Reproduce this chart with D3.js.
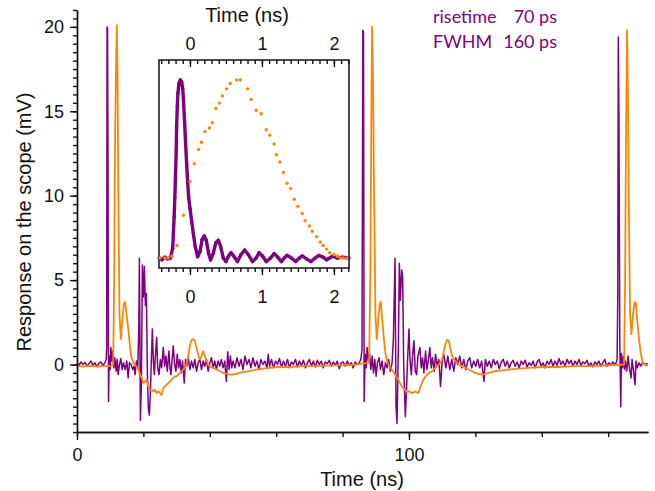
<!DOCTYPE html>
<html>
<head>
<meta charset="utf-8">
<script src="https://cdn.jsdelivr.net/npm/d3@7"></script>
<style>
  body { margin: 0; background: #fff; }
  svg { display: block; }
  .tick text { font-family: Arial, "Liberation Sans", sans-serif; font-size: 18px; fill: #111; }
  .title { font-family: Arial, "Liberation Sans", sans-serif; font-size: 20px; fill: #111; }
  .note { font-family: Lato, "Open Sans", sans-serif; font-size: 18px; fill: #800080; }
</style>
</head>
<body>
<svg id="chart" width="655" height="491"></svg>
<script>
// main traces: [time (ns), response (mV)]
const purpleTrace = [
  [0,0.1],[0.6,-0.05],[1.2,0.15],[1.8,0.0],[2.4,0.12],[3.0,-0.1],[3.6,0.05],[4.2,0.2],[4.8,-0.05],[5.4,0.1],
  [6.0,-0.12],[6.6,0.08],[7.2,0.15],[7.8,-0.05],[8.4,0.1],[8.8,0.3],
  // pulse 1
  [8.95,1.0],[9.05,20.0],[9.2,19.9],[9.35,11.4],[9.5,-2.2],[9.7,0.5],[10.0,-0.3],[10.2,1.0],[10.5,0.2],[10.8,0.8],
  [11.1,-0.2],[11.4,0.4],[11.8,-0.4],[12.1,0.3],[12.4,-0.6],[12.8,0.0],[13.2,0.35],[13.6,-0.3],[14.0,0.1],[14.5,-0.3],
  [15.0,0.2],[15.4,-0.8],[15.8,0.1],[16.3,0.0],[16.8,-0.3],[17.2,-0.1],[17.5,-0.6],[17.9,0.2],[18.3,-0.2],[18.6,2.0],
  [18.8,6.3],[19.1,-3.3],[19.4,-1.0],[19.7,5.9],[20.0,4.0],[20.3,5.8],[20.6,3.5],[20.9,4.2],[21.2,-0.5],[21.5,-2.6],
  [21.8,-3.0],[22.1,-1.7],[22.4,0.3],[22.7,2.1],[23.0,0.2],[23.3,-0.6],[23.6,0.5],[24.0,1.6],[24.3,-0.2],[24.7,-0.6],
  [25.1,0.3],[25.5,-0.2],[26.0,1.0],[26.4,-0.1],[26.8,0.5],[27.2,-0.4],[27.7,0.8],[28.0,-0.2],[28.3,-0.6],[28.7,0.4],
  [29.0,1.1],[29.4,0.0],[29.8,-0.4],[30.2,0.6],[30.6,-0.2],[31.0,0.3],[31.4,-0.5],[31.8,0.2],[32.3,-1.1],[32.7,0.3],
  [33.1,-0.1],[33.5,0.4],[34.0,-0.3],[34.5,0.2],[35.0,-0.2],[35.5,0.3],[36.0,-0.4],[36.5,0.1],[37.0,0.3],[37.5,-0.3],
  [38.0,0.2],[38.5,-0.1],[39.0,0.3],[39.5,-0.4],[40.0,0.1],[40.5,0.4],[41.0,-0.2],[41.5,0.2],[42.0,-0.3],[42.5,0.2],
  [43.0,-0.1],[43.5,0.3],[44.0,-0.2],[44.5,0.2],[45.0,-1.0],[45.4,0.75],[45.8,-0.3],[46.2,0.5],[46.6,-0.2],
  // quiet stretch
  [47.0,0.2],[47.6,-0.2],[48.2,0.4],[48.8,-0.1],[49.4,0.3],[50.0,-0.3],[50.6,0.5],[51.2,0.0],[51.8,0.3],[52.4,-0.2],
  [53.0,0.4],[53.6,-0.1],[54.2,0.2],[54.8,-0.3],[55.4,0.3],[56.0,0.0],[56.6,0.2],[57.2,-0.2],[57.6,0.6],[58.0,-0.1],
  [58.6,0.3],[59.2,-0.2],[59.8,0.2],[60.4,0.0],[61.0,0.35],[61.6,-0.15],[62.2,0.2],[62.8,-0.1],[63.4,0.3],[64.0,-0.2],
  [64.6,0.15],[65.2,0.0],[65.8,0.3],[66.4,-0.15],[67.0,0.2],[67.6,-0.05],[68.2,0.25],[68.8,-0.2],[69.4,0.1],[70.0,0.3],
  [70.6,-0.1],[71.2,0.2],[71.8,-0.15],[72.4,0.25],[73.0,0.0],[73.6,0.2],[74.2,-0.2],[74.8,0.15],[75.4,0.05],[76.0,0.25],
  [76.6,-0.1],[77.2,0.15],[77.8,-0.05],[78.4,0.2],[79.0,-0.25],[79.6,0.1],[80.2,0.15],[80.8,-0.1],[81.4,0.2],[82.0,-0.05],
  [82.6,0.1],[83.2,-0.2],[83.8,0.15],[84.4,0.0],[85.0,0.1],[85.5,0.3],
  // pulse 2
  [85.85,0.9],[86.1,19.8],[86.3,19.7],[86.5,-2.2],[86.8,0.6],[87.1,-0.2],[87.4,1.0],[87.8,0.2],[88.1,0.7],[88.5,-0.3],
  [88.9,0.5],[89.3,-0.5],[89.7,0.3],[90.1,-0.7],[90.5,0.1],[91.0,0.4],[91.4,-0.3],[91.9,0.2],[92.4,-0.6],[92.9,0.1],
  [93.4,-0.2],[93.9,0.3],[94.4,-0.4],[94.9,0.1],[95.3,1.5],[95.8,6.3],[96.1,-2.5],[96.4,-3.5],[96.8,1.0],[97.1,6.0],
  [97.4,3.8],[97.8,5.6],[98.1,5.2],[98.4,0.0],[98.9,-3.1],[99.2,-1.8],[99.6,0.4],[100.0,2.1],[100.3,0.3],[100.7,-0.6],
  [101.1,0.6],[101.5,1.4],[101.9,-0.4],[102.3,-0.6],[102.7,0.5],[103.3,1.0],[103.7,-0.2],[104.1,0.4],[104.5,-0.5],[105.0,0.8],
  [105.4,-0.3],[105.8,0.2],[106.3,1.0],[106.7,-0.2],[107.1,0.4],[107.6,-0.4],[108.0,0.6],[108.5,-0.1],[109.0,0.3],[109.5,-1.3],
  [110.0,0.2],[110.5,0.6],
  // quiet stretch
  [111.1,-0.2],[111.7,0.5],[112.3,-0.3],[112.9,0.3],[113.5,-0.4],[114.1,0.4],[114.7,0.0],[115.3,0.5],[115.9,-0.2],[116.5,0.3],
  [117.1,-0.3],[117.7,0.2],[118.3,0.4],[118.9,-0.2],[119.5,0.2],[120.1,-0.1],[120.7,0.3],[121.3,-0.2],[121.9,0.2],[122.6,-1.0],
  [123.0,0.3],[123.6,-0.1],[124.2,0.2],[124.8,-0.2],[125.4,0.3],[126.0,0.0],[126.6,0.2],[127.2,-0.25],[127.8,0.15],[128.4,0.3],
  [129.0,-0.1],[129.6,0.2],[130.2,-0.2],[130.8,0.1],[131.4,0.25],[132.0,-0.1],[132.6,0.15],[133.2,-0.2],[133.8,0.2],[134.4,0.0],
  [135.0,0.25],[135.6,-0.15],[136.2,0.1],[136.8,-0.05],[137.4,0.2],[138.0,-0.2],[138.6,0.15],[139.2,0.3],[139.8,-0.1],[140.4,0.1],
  [141.0,-0.2],[141.6,0.2],[142.2,0.0],[142.8,0.3],[143.4,-0.1],[144.0,0.2],[144.6,-0.05],[145.2,0.35],[145.8,0.0],[146.4,0.2],
  [147.0,-0.1],[147.6,0.3],[148.2,0.05],[148.8,0.25],[149.4,-0.1],[150.0,0.2],[150.6,0.0],[151.2,0.3],[151.8,-0.05],[152.4,0.15],
  [153.0,0.05],[153.6,0.25],[154.2,-0.1],[154.8,0.1],[155.4,-0.15],[156.0,0.15],[156.6,0.0],[157.2,0.2],[157.8,-0.1],[158.4,0.1],
  [159.0,0.3],[159.6,-0.1],[160.2,0.1],[160.8,-0.05],[161.4,0.15],[162.0,0.0],[162.4,0.1],
  // pulse 3
  [162.7,0.3],[162.9,4.2],[163.05,19.4],[163.25,14.7],[163.5,1.5],[163.8,-2.5],[164.0,0.65],[164.3,-0.2],[164.6,0.5],[164.9,-0.3],
  [165.2,0.2],[165.6,-0.4],[166.0,0.5],[166.4,-0.2],[166.9,-0.8],[167.2,0.3],[167.6,-0.3],[168.1,-1.2],[168.4,0.2],[168.8,-0.2],
  [169.3,0.1],[169.8,-0.1],[170.3,0.1],[171.0,0.0],[172.0,0.05]
];

const orangeTrace = [
  [0,-0.1],[2,-0.12],[4,-0.08],[6,-0.12],[8,-0.1],[10,-0.1],[10.9,0.0],
  // pulse 1
  [11.2,5],[11.5,14],[11.8,18],[12.0,20.1],[12.2,17.5],[12.5,9],[12.8,3],[13.2,1.5],[13.6,2.5],[14.1,3.6],
  [14.5,3.7],[14.9,3.0],[15.4,2.2],[15.9,1.2],[16.3,0.5],[16.8,0.2],[17.3,0.0],[17.8,-0.1],[18.3,-0.2],[18.8,-0.5],
  [19.5,-0.8],[20.0,-1.1],[20.5,-1.0],[21.0,-0.9],[21.5,-1.3],[22.0,-1.5],[22.5,-1.5],[23.0,-1.6],[23.5,-1.5],[24.0,-1.7],
  [24.5,-1.6],[25.0,-1.7],[25.5,-1.8],[26.0,-1.4],[26.5,-1.3],[27.0,-1.2],[27.5,-1.1],[28.0,-1.0],[28.5,-0.9],[29.0,-0.8],
  [29.5,-0.7],[30.0,-0.7],[30.5,-0.6],[31.0,-0.5],[31.5,-0.4],[32.0,-0.3],[32.5,-0.2],[33.0,0.0],[33.5,0.5],[34.0,1.1],
  [34.5,1.45],[35.0,1.5],[35.5,1.4],[36.0,1.0],[36.5,0.6],[37.0,0.3],[37.5,0.5],[38.0,0.8],[38.5,0.5],[39.0,0.2],
  [39.5,0.0],[40,-0.1],[41,-0.2],[42,-0.3],[43,-0.4],[44,-0.5],[45,-0.55],[46,-0.6],[47,-0.6],[48,-0.55],
  [49,-0.5],[50,-0.45],[52,-0.4],[54,-0.3],[56,-0.25],[58,-0.2],[60,-0.15],[64,-0.15],[68,-0.1],[72,-0.1],
  [76,-0.05],[80,-0.05],[84,0.0],[86,0.05],[88.0,0.1],
  // pulse 2
  [88.4,6],[88.7,16],[88.9,20.0],[89.2,16.3],[89.5,9.8],[89.9,3.0],[90.3,1.5],[90.8,2.8],[91.2,3.6],[91.5,3.7],
  [91.9,2.8],[92.4,1.6],[92.9,0.7],[93.3,0.25],[93.8,0.0],[94.5,-0.2],[95.2,-0.4],[95.8,-0.6],[96.3,-0.8],[96.8,-0.9],
  [97.5,-1.2],[98.2,-1.4],[98.8,-1.5],[99.3,-1.6],[100,-1.6],[101,-1.7],[101.8,-1.6],[102.8,-1.7],[103.5,-1.3],[104.3,-0.9],
  [105,-0.7],[106,-0.5],[107,-0.4],[108,-0.2],[109.3,0.06],[110,0.3],[110.7,1.0],[111.4,1.45],[112,1.4],[112.5,0.9],
  [113,0.5],[113.5,0.3],[114,0.2],[115,0.0],[116,-0.1],[117,-0.2],[118,-0.3],[119,-0.4],[120,-0.5],[121,-0.55],
  [122,-0.6],[123,-0.55],[124,-0.5],[126,-0.4],[128,-0.35],[130,-0.3],[133,-0.25],[136,-0.2],[140,-0.15],[145,-0.15],
  [150,-0.1],[155,-0.1],[160,-0.05],[164.8,0.0],
  // pulse 3
  [165.1,5],[165.4,14],[165.7,19.8],[166.0,15.3],[166.3,8],[166.6,3],[167.0,1.8],[167.5,3.0],[168.0,3.7],[168.4,3.6],
  [168.8,2.5],[169.3,1.5],[169.8,0.7],[170.3,0.2],[170.8,0.0],[171.5,-0.05],[172,-0.05]
];

// inset traces: [time (ns), normalised amplitude]
const insetPurple = [
  [-0.43,0.0],[-0.39,-0.01],[-0.35,0.005],[-0.31,-0.005],[-0.27,0.0],[-0.24,0.055],[-0.23,0.14],[-0.22,0.23],[-0.21,0.34],[-0.20,0.48],
  [-0.19,0.61],[-0.185,0.74],[-0.176,0.85],[-0.167,0.925],[-0.153,0.98],[-0.134,1.0],[-0.116,0.99],[-0.10,0.95],[-0.088,0.87],[-0.074,0.76],
  [-0.06,0.64],[-0.046,0.53],[-0.032,0.43],[-0.018,0.34],[0.0,0.28],[0.023,0.21],[0.046,0.14],[0.074,0.064],[0.107,0.007],[0.139,0.035],
  [0.17,0.105],[0.199,0.124],[0.227,0.10],[0.259,0.026],[0.287,-0.011],[0.324,0.026],[0.36,0.086],[0.394,0.10],[0.426,0.067],[0.463,0.0],
  [0.5,-0.02],[0.535,0.01],[0.57,0.03],[0.61,0.01],[0.66,-0.02],[0.71,0.02],[0.76,0.045],[0.81,0.02],[0.87,-0.02],[0.92,0.0],
  [0.96,0.03],[1.01,0.01],[1.06,-0.02],[1.12,0.0],[1.17,0.025],[1.22,0.005],[1.27,-0.02],[1.31,0.0],[1.35,0.015],[1.41,0.0],
  [1.47,-0.02],[1.52,0.0],[1.56,0.012],[1.62,-0.005],[1.68,-0.02],[1.74,0.0],[1.79,0.015],[1.85,0.005],[1.90,-0.01],[1.98,0.01],
  [2.05,0.0],[2.12,0.005],[2.21,0.0]
];

const insetOrange = [
  [-0.417,0.0],[-0.347,0.0],[-0.30,0.0],[-0.25,0.01],[-0.18,0.07],[-0.09,0.24],[0.0,0.43],[0.06,0.53],[0.12,0.61],[0.16,0.65],
  [0.21,0.71],[0.27,0.73],[0.31,0.76],[0.36,0.84],[0.41,0.87],[0.45,0.91],[0.51,0.95],[0.56,0.98],[0.65,1.0],[0.70,1.0],
  [0.80,0.95],[0.85,0.89],[0.92,0.83],[0.99,0.81],[1.06,0.72],[1.11,0.69],[1.17,0.64],[1.20,0.58],[1.25,0.54],[1.30,0.48],
  [1.35,0.42],[1.40,0.39],[1.45,0.33],[1.50,0.29],[1.56,0.25],[1.60,0.21],[1.66,0.18],[1.70,0.15],[1.76,0.12],[1.81,0.09],
  [1.85,0.07],[1.90,0.05],[1.94,0.03],[2.00,0.02],[2.05,0.01],[2.09,0.0],[2.13,0.0],[2.18,0.0]
];

// tick values and labels
const mainXLabels = [0, 100];
const mainXMinor = [0, 20, 40, 60, 80, 100, 120, 140, 160];
const mainYLabels = [0, 5, 10, 15, 20];
const insetLabels = [0, 1, 2];

const noteRows = [
  { label: "risetime", value: "70 ps" },
  { label: "FWHM", value: "160 ps" }
];

const purple = "#800080";
const orange = "#FF8400";

const svg = d3.select("#chart");

// main scales
const x = d3.scaleLinear().domain([0, 172]).range([77, 648]);
const y = d3.scaleLinear().domain([-4, 21]).range([432, 10]);

const line = d3.line().x(d => x(d[0])).y(d => y(d[1]));

// traces
svg.append("path").datum(purpleTrace)
  .attr("d", line).attr("fill", "none")
  .attr("stroke", purple).attr("stroke-width", 1.5).attr("stroke-linejoin", "round");

svg.append("path").datum(orangeTrace)
  .attr("d", line).attr("fill", "none")
  .attr("stroke", orange).attr("stroke-width", 1.8).attr("stroke-linejoin", "round");

// y axis: minor every 0.5, labels every 5
svg.append("g")
  .attr("transform", "translate(77,0)")
  .call(d3.axisLeft(y).tickValues(d3.range(-4, 21.01, 0.5)).tickSize(4).tickFormat("").tickSizeOuter(0));
svg.append("g")
  .attr("transform", "translate(77,0)")
  .call(d3.axisLeft(y).tickValues(mainYLabels).tickSize(7).tickPadding(6).tickSizeOuter(0));

// x axis
svg.append("g")
  .attr("transform", "translate(0,432)")
  .call(d3.axisBottom(x).tickValues(mainXMinor).tickSize(5).tickFormat("").tickSizeOuter(0));
svg.append("g")
  .attr("transform", "translate(0,432)")
  .call(d3.axisBottom(x).tickValues(mainXLabels).tickSize(8).tickPadding(8).tickSizeOuter(0));

svg.selectAll(".domain, .tick line").attr("stroke", "#111").attr("stroke-width", 1.4);

svg.append("text").attr("class", "title")
  .attr("x", 362).attr("y", 486).attr("text-anchor", "middle").text("Time (ns)");
svg.append("text").attr("class", "title")
  .attr("transform", "translate(31,222) rotate(-90)")
  .attr("text-anchor", "middle").text("Response on the scope (mV)");

// note in the top right corner
noteRows.forEach((r, i) => {
  svg.append("text").attr("class", "note").attr("x", 433).attr("y", 23 + i * 25).text(r.label);
  svg.append("text").attr("class", "note").attr("x", 557).attr("y", 23 + i * 25)
    .attr("text-anchor", "end").text(r.value);
});

// ---- inset ----
const ix = d3.scaleLinear().domain([-0.43, 2.21]).range([159, 349]);
const iy = d3.scaleLinear().domain([-0.056, 1.112]).range([268, 60]);

const inset = svg.append("g");
inset.append("rect")
  .attr("x", 159).attr("y", 60).attr("width", 190).attr("height", 208)
  .attr("fill", "#fff").attr("stroke", "#111").attr("stroke-width", 1.5);

const iline = d3.line().x(d => ix(d[0])).y(d => iy(d[1]));

inset.append("path").datum(insetPurple)
  .attr("d", iline).attr("fill", "none")
  .attr("stroke", purple).attr("stroke-width", 3.4).attr("stroke-linejoin", "round");
inset.selectAll(".pdot").data(insetPurple).join("circle")
  .attr("class", "pdot")
  .attr("cx", d => ix(d[0])).attr("cy", d => iy(d[1])).attr("r", 1.7)
  .attr("fill", purple);

inset.selectAll(".odot").data(insetOrange).join("circle")
  .attr("class", "odot")
  .attr("cx", d => ix(d[0])).attr("cy", d => iy(d[1])).attr("r", 1.7)
  .attr("fill", orange);

const insetMinor = d3.range(-0.4, 2.201, 0.1);
const fmt = d3.format("d");

// top axis, ticks pointing inside
inset.append("g").attr("transform", "translate(0,60)")
  .call(d3.axisTop(ix).tickValues(insetMinor).tickSize(-4).tickFormat("").tickSizeOuter(0));
inset.append("g").attr("transform", "translate(0,60)")
  .call(d3.axisTop(ix).tickValues(insetLabels).tickFormat(fmt).tickSize(-7).tickPadding(10).tickSizeOuter(0));

// bottom axis, ticks pointing outside
inset.append("g").attr("transform", "translate(0,268)")
  .call(d3.axisBottom(ix).tickValues(insetMinor).tickSize(4).tickFormat("").tickSizeOuter(0));
inset.append("g").attr("transform", "translate(0,268)")
  .call(d3.axisBottom(ix).tickValues(insetLabels).tickFormat(fmt).tickSize(7).tickPadding(15).tickSizeOuter(0));

inset.selectAll(".domain").remove();
inset.selectAll(".tick line").attr("stroke", "#111").attr("stroke-width", 1.4);

svg.append("text").attr("class", "title")
  .attr("x", 247).attr("y", 22).attr("text-anchor", "middle").text("Time (ns)");
</script>
</body>
</html>
